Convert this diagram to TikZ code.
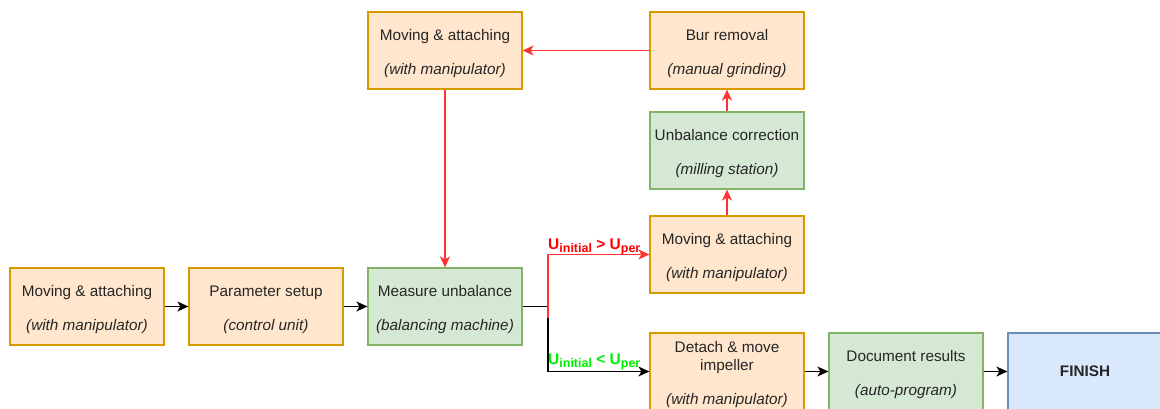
\documentclass[tikz,border=0pt]{standalone}
\usepackage{fontspec}
\setmainfont{Liberation Sans}
\usetikzlibrary{arrows.meta}
\definecolor{ofill}{HTML}{FFE6CC}
\definecolor{odraw}{HTML}{D79B00}
\definecolor{gfill}{HTML}{D5E8D4}
\definecolor{gdraw}{HTML}{82B366}
\definecolor{bfill}{HTML}{DAE8FC}
\definecolor{bdraw}{HTML}{6C8EBF}
\definecolor{redline}{HTML}{FF3333}
\definecolor{redtext}{HTML}{FF0000}
\definecolor{greentext}{HTML}{00EE00}
\newcommand{\tp}{\rule{0pt}{17pt}}
\newcommand{\sbs}[1]{\raisebox{-2.5pt}{\fontsize{12.5}{14}\selectfont #1}}
\tikzset{
  box/.style={draw, line width=1.2pt, minimum width=154pt, minimum height=77pt,
    align=center, inner sep=2pt, text=black!85,
    font=\fontsize{15.3}{18}\selectfont},
  obox/.style={box, fill=ofill, draw=odraw},
  gbox/.style={box, fill=gfill, draw=gdraw},
  bbox/.style={box, fill=bfill, draw=bdraw},
  blk/.style={draw=black, line width=1.3pt, -{Stealth[length=11pt,width=10pt,inset=3pt]}},
  rd/.style={draw=redline, line width=1.3pt, -{Stealth[length=11pt,width=10pt,inset=3pt]}},
  lbl/.style={font=\fontsize{15.5}{17}\selectfont\bfseries, inner sep=1pt}
}
\begin{document}
\begin{tikzpicture}[x=1pt,y=-1pt]
\useasboundingbox (0,0) rectangle (1160,409);
\node[obox] (b1) at (87,306.5) {\tp Moving \& attaching\\[16pt]\textit{(with manipulator)}};
\node[obox] (b2) at (266,306.5) {\tp Parameter setup\\[16pt]\textit{(control unit)}};
\node[gbox] (ms) at (445,306.5) {\tp Measure unbalance\\[16pt]\textit{(balancing machine)}};
\node[obox] (tm) at (445,50.5) {\tp Moving \& attaching\\[16pt]\textit{(with manipulator)}};
\node[obox] (br) at (727,50.5) {\tp Bur removal\\[16pt]\textit{(manual grinding)}};
\node[gbox] (uc) at (727,150.5) {\tp Unbalance correction\\[16pt]\textit{(milling station)}};
\node[obox] (mm) at (727,254.5) {\tp Moving \& attaching\\[16pt]\textit{(with manipulator)}};
\node[obox] (dt) at (727,371.5) {\tp Detach \& move\\impeller\\[16pt]\textit{(with manipulator)}};
\node[gbox] (dr) at (906,371.5) {\tp Document results\\[16pt]\textit{(auto-program)}};
\node[bbox] (fn) at (1085,371.5) {\textbf{FINISH}};

\draw[blk] (b1) -- (b2);
\draw[blk] (b2) -- (ms);
\draw[blk] (dt) -- (dr);
\draw[blk] (dr) -- (fn);
\coordinate (sp) at (548,306.5);
\coordinate (rs) at (548,318);
\draw[blk] (ms.east) -- (sp) |- (dt.west);
\draw[rd] (rs) |- (mm.west);
\draw[rd] (mm) -- (uc);
\draw[rd] (uc) -- (br);
\draw[rd] (br) -- (tm);
\draw[rd] (tm) -- (ms);

\node[lbl, text=redtext, anchor=south west] (l1) at (547,256) {U\sbs{initial} > U\sbs{per}};
\node[lbl, text=greentext, anchor=south west] (l2) at (547,371) {U\sbs{initial} < U\sbs{per}};
\end{tikzpicture}
\end{document}
